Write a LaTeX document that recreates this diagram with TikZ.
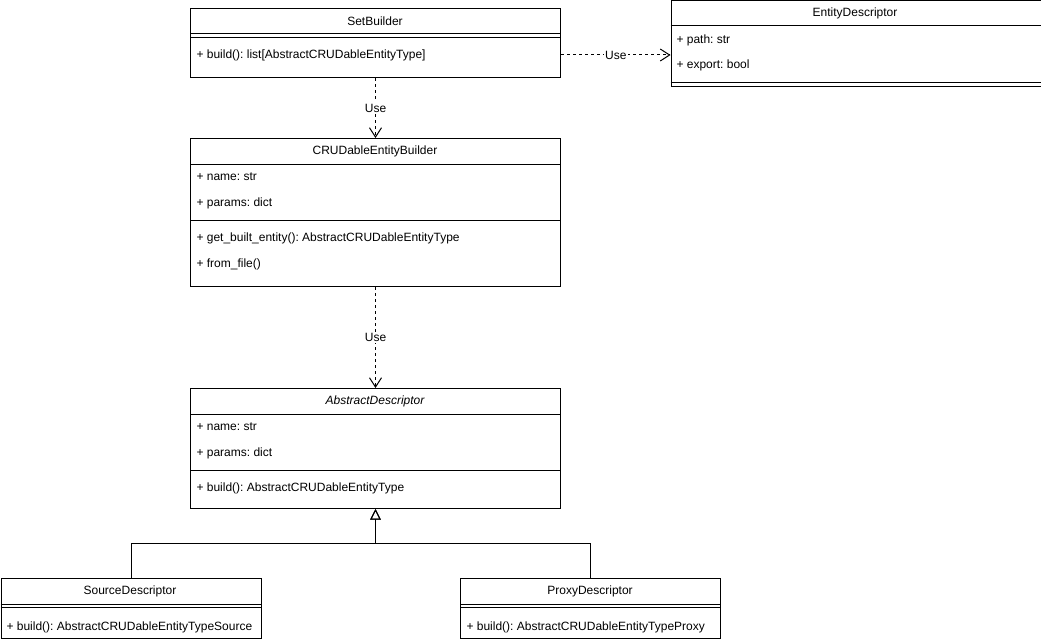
\documentclass[tikz,border=0pt]{standalone}
\usepackage{fontspec}
\setmainfont{Liberation Sans}
\usetikzlibrary{arrows.meta,positioning,calc}
\frenchspacing

\begin{document}
\begin{tikzpicture}[x=0.75pt, y=-0.75pt, line width=0.75pt,
    every node/.style={font=\fontsize{9}{11}\selectfont, inner sep=0pt},
    classbox/.style={draw, anchor=north west, minimum width=277.5pt},
    smallbox/.style={classbox, minimum width=195pt, minimum height=45pt},
    member/.style={anchor=west},
    use/.style={dash pattern=on 2.25pt off 2.25pt, -{Straight Barb[length=7pt, width=9pt]}},
    uselabel/.style={fill=white, inner sep=1pt},
    inherit/.style={-{Triangle[open, length=8pt, width=8pt]}}]
    \useasboundingbox (0,0) rectangle (1041,642);

    % Class boxes
    \node[classbox, minimum height=51.75pt] (setb) at (190,8) {};
    \node[classbox, minimum height=64.125pt] (entd) at (670.5,0.5) {};
    \node[classbox, minimum height=111pt] (crud) at (190,138) {};
    \node[classbox, minimum height=90pt] (absd) at (190,388) {};
    \node[smallbox] (srcd) at (0.5,578) {};
    \node[smallbox] (prxd) at (460,578) {};

    % Compartment lines
    \foreach \c/\y in {setb/26, setb/29.5, entd/25.5, entd/81.5, crud/26, crud/82, absd/26, absd/82, srcd/26, srcd/29.5, prxd/26, prxd/29.5} {
      \draw ($(\c.north west)+(0,\y)$) -- ($(\c.north east)+(0,\y)$);
    }

    % Titles
    \node (setb-t) at (375,21) {SetBuilder};
    \node (entd-t) at (855,13) {EntityDescriptor};
    \node (crud-t) at (375,151) {CRUDableEntityBuilder};
    \node (absd-t) at (375,401) {\itshape AbstractDescriptor};
    \node (srcd-t) at (130,591) {SourceDescriptor};
    \node (prxd-t) at (590,591) {ProxyDescriptor};

    % Members
    \node[member] (setb-m1) at (196,55) {+ build(): list[AbstractCRUDableEntityType]};
    \node[member] (entd-a1) at (676,40) {+ path: str};
    \node[member] (entd-a2) at (676,65) {+ export: bool};
    \node[member] (crud-a1) at (196,177) {+ name: str};
    \node[member] (crud-a2) at (196,203) {+ params: dict};
    \node[member] (crud-m1) at (196,238) {+ get\_built\_entity(): AbstractCRUDableEntityType};
    \node[member] (crud-m2) at (196,264) {+ from\_file()};
    \node[member] (absd-a1) at (196,427) {+ name: str};
    \node[member] (absd-a2) at (196,453) {+ params: dict};
    \node[member] (absd-m1) at (196,488) {+ build(): AbstractCRUDableEntityType};
    \node[member] (srcd-m1) at (6,627) {+ build(): AbstractCRUDableEntityTypeSource};
    \node[member] (prxd-m1) at (466,627) {+ build(): AbstractCRUDableEntityTypeProxy};

    % Dependencies
    \draw[use] (setb-m1 -| setb.east) -- node[uselabel] (use1) {Use} (entd.west |- setb-m1);
    \draw[use] (setb.south) -- node[uselabel] (use2) {Use} (crud.north);
    \draw[use] (crud.south) -- node[uselabel] (use3) {Use} (absd.north);

    % Inheritance
    \draw[inherit] (srcd.north) -- ++(0,-35) -| (absd.south);
    \draw[inherit] (prxd.north) -- ++(0,-35) -| (absd.south);
\end{tikzpicture}
\end{document}
